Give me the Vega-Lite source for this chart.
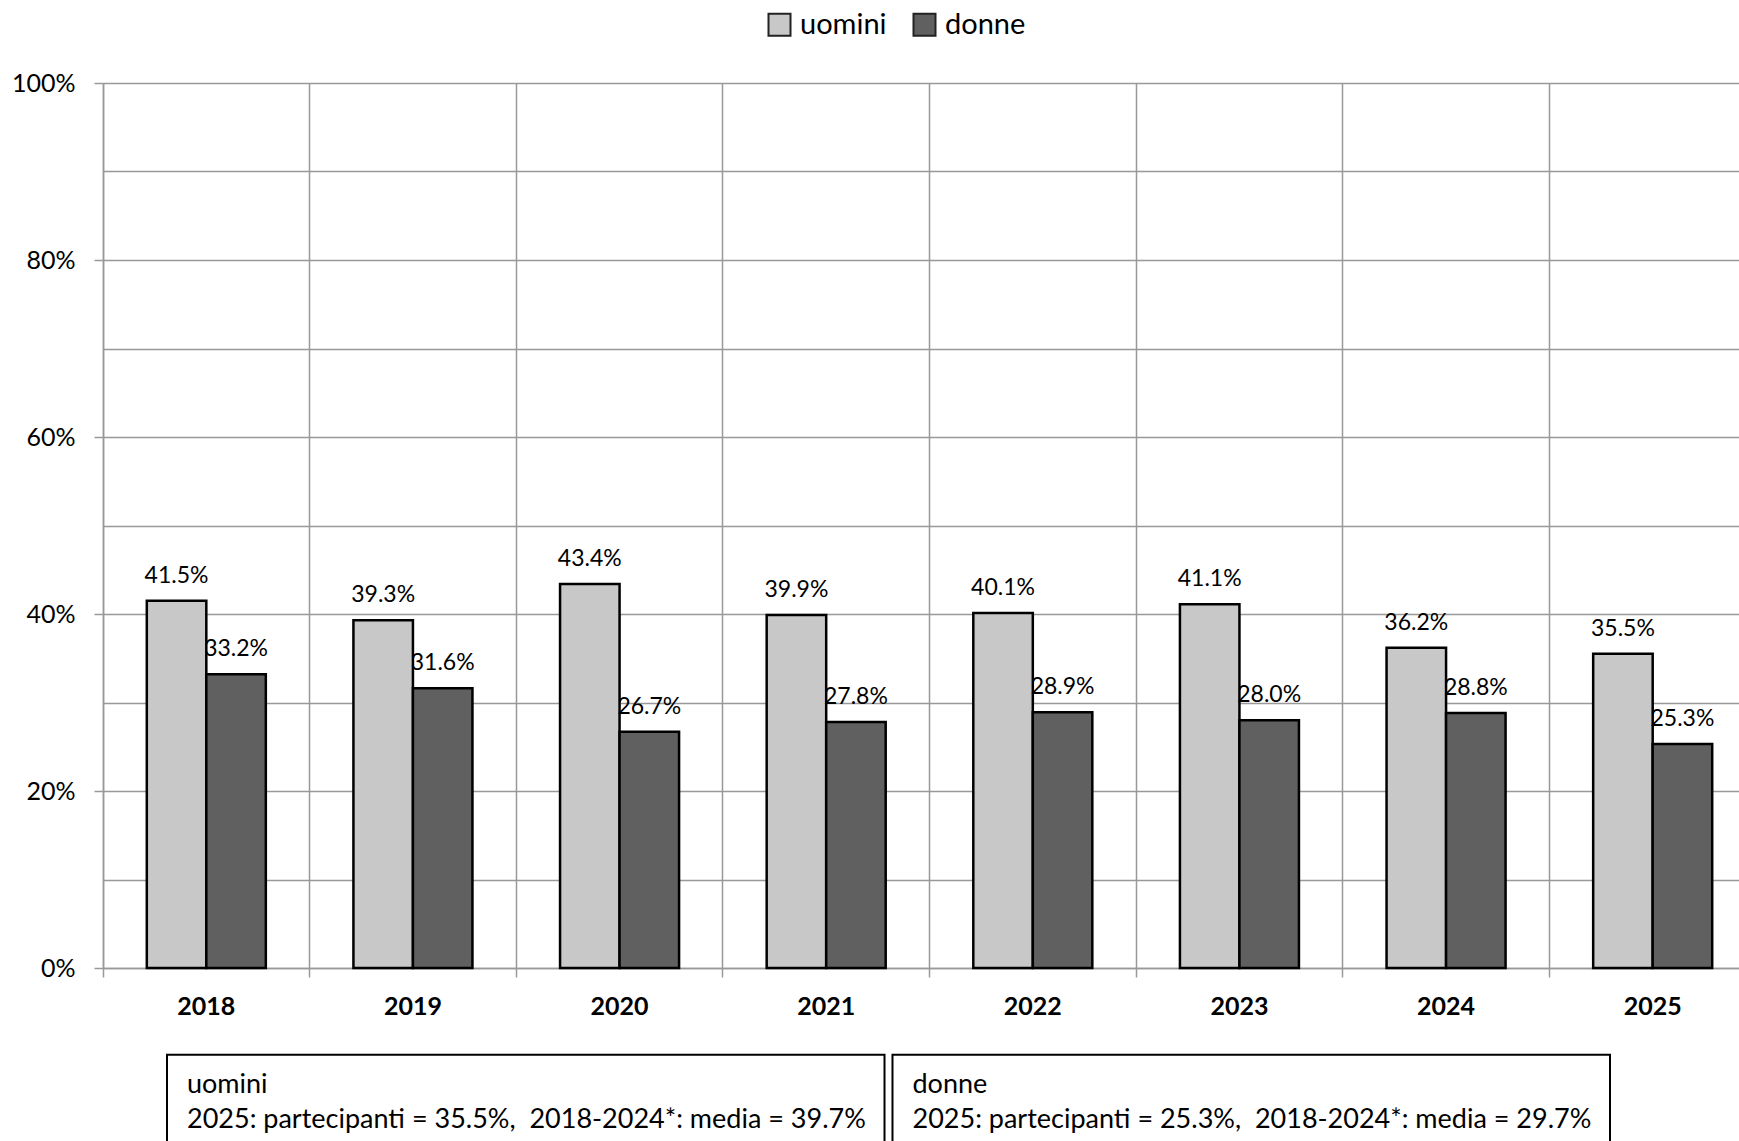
{
  "$schema": "https://vega.github.io/schema/vega-lite/v6.json",
  "width": 1636,
  "height": 885,
  "autosize": "none",
  "padding": {"left": 103, "top": 83, "right": 0, "bottom": 173},
  "background": "white",
  "config": {"font": "Lato", "view": {"stroke": null}},
  "datasets": {
    "barre": [
      {"anno": "2018", "sesso": "uomini", "valore": 0.415},
      {"anno": "2018", "sesso": "donne", "valore": 0.332},
      {"anno": "2019", "sesso": "uomini", "valore": 0.393},
      {"anno": "2019", "sesso": "donne", "valore": 0.316},
      {"anno": "2020", "sesso": "uomini", "valore": 0.434},
      {"anno": "2020", "sesso": "donne", "valore": 0.267},
      {"anno": "2021", "sesso": "uomini", "valore": 0.399},
      {"anno": "2021", "sesso": "donne", "valore": 0.278},
      {"anno": "2022", "sesso": "uomini", "valore": 0.401},
      {"anno": "2022", "sesso": "donne", "valore": 0.289},
      {"anno": "2023", "sesso": "uomini", "valore": 0.411},
      {"anno": "2023", "sesso": "donne", "valore": 0.280},
      {"anno": "2024", "sesso": "uomini", "valore": 0.362},
      {"anno": "2024", "sesso": "donne", "valore": 0.288},
      {"anno": "2025", "sesso": "uomini", "valore": 0.355},
      {"anno": "2025", "sesso": "donne", "valore": 0.253}
    ],
    "riquadri": [
      {"gruppo": "uomini", "righe": ["uomini", "2025: partecipanti = 35.5%,\u00a0 2018-2024*: media = 39.7%"]},
      {"gruppo": "donne", "righe": ["donne", "2025: partecipanti = 25.3%,\u00a0 2018-2024*: media = 29.7%"]}
    ]
  },
  "layer": [
    {
      "data": {"name": "barre"},
      "encoding": {
        "x": {
          "field": "anno", "type": "nominal",
          "scale": {"range": [0, 1653], "paddingInner": 0.424, "paddingOuter": 0.212},
          "axis": {
            "title": null, "bandPosition": -0.368, "labelAngle": 0,
            "grid": true, "gridColor": "#999999", "gridWidth": 1.5,
            "tickSize": 9, "tickColor": "#999999", "tickWidth": 1.5,
            "domainColor": "#999999", "domainWidth": 1.5,
            "labelFontSize": 25, "labelFontWeight": "bold", "labelColor": "black", "labelPadding": 17
          }
        },
        "xOffset": {"field": "sesso", "sort": ["uomini", "donne"], "scale": {"paddingInner": 0}},
        "y": {
          "field": "valore", "type": "quantitative",
          "scale": {"domain": [0, 1]},
          "axis": {
            "title": null,
            "values": [0, 0.1, 0.2, 0.3, 0.4, 0.5, 0.6, 0.7, 0.8, 0.9, 1],
            "format": ".0%",
            "labelExpr": "round(datum.value*10)%2==1 ? '' : datum.label",
            "grid": true, "gridColor": "#999999", "gridWidth": 1.5,
            "domainColor": "#999999", "domainWidth": 1.5,
            "tickColor": "#999999", "tickWidth": 1.5, "tickSize": 9,
            "tickOpacity": {"condition": {"test": "round(datum.value*10)%2==1", "value": 0}, "value": 1},
            "labelFontSize": 25, "labelColor": "black", "labelPadding": 19
          }
        }
      },
      "layer": [
        {
          "mark": {"type": "bar", "stroke": "black", "strokeWidth": 2.5},
          "encoding": {
            "color": {
              "field": "sesso", "type": "nominal", "sort": ["uomini", "donne"],
              "scale": {"domain": ["uomini", "donne"], "range": ["#c8c8c8", "#606060"]},
              "legend": {
                "orient": "none", "legendX": 662, "legendY": -73, "direction": "horizontal",
                "title": null, "symbolType": "square", "symbolSize": 484,
                "symbolStrokeColor": "#222222", "symbolStrokeWidth": 2,
                "labelFontSize": 29, "labelFont": "Lato", "labelColor": "black",
                "columnPadding": 22, "labelOffset": 6, "padding": 0
              }
            }
          }
        },
        {
          "mark": {"type": "text", "baseline": "alphabetic", "dy": -18, "fontSize": 23, "color": "black"},
          "encoding": {"text": {"field": "valore", "type": "quantitative", "format": ".1%"}}
        }
      ]
    },
    {
      "data": {"name": "riquadri"},
      "encoding": {
        "x": {
          "field": "gruppo", "type": "nominal", "sort": ["uomini", "donne"],
          "scale": {"range": [64, 1507], "paddingInner": 0.011, "paddingOuter": 0},
          "axis": null
        }
      },
      "layer": [
        {
          "mark": {"type": "rect", "fill": "white", "stroke": "black", "strokeWidth": 2},
          "encoding": {"y": {"datum": -0.098}, "y2": {"datum": -0.4}}
        },
        {
          "mark": {"type": "text", "align": "left", "baseline": "alphabetic", "dx": 20, "fontSize": 27, "lineHeight": 35, "color": "black"},
          "encoding": {
            "x": {"field": "gruppo", "type": "nominal", "sort": ["uomini", "donne"], "bandPosition": 0},
            "y": {"datum": -0.1412},
            "text": {"field": "righe"}
          }
        }
      ]
    }
  ],
  "resolve": {"scale": {"x": "independent"}}
}
